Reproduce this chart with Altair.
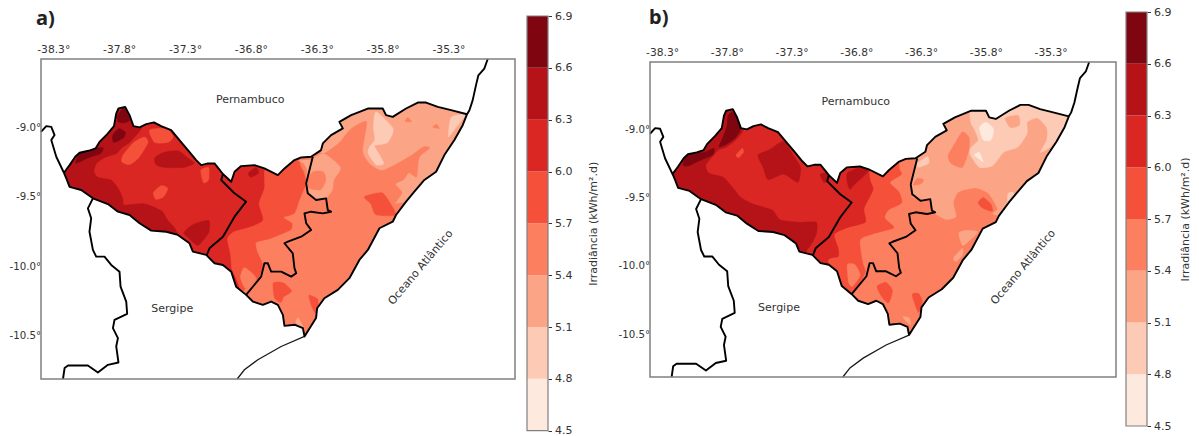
import altair as alt
import pandas as pd

LON_DOMAIN = [-38.393, -34.795]
LAT_DOMAIN = [-10.811, -8.51]
LON_TICKS = [-38.3, -37.8, -37.3, -36.8, -36.3, -35.8, -35.3]
LAT_TICKS = [-9.0, -9.5, -10.0, -10.5]
LEVELS = ["4.5", "4.8", "5.1", "5.4", "5.7", "6.0", "6.3", "6.6"]
LEVEL_COLORS = ["#fee9df", "#fdcab5", "#fca486", "#fc7f5f", "#f4503a", "#da2723", "#b61319", "#7f0610"]
BAR_LOW = [4.5, 4.8, 5.1, 5.4, 5.7, 6.0, 6.3, 6.6]
BAR_HIGH = [4.8, 5.1, 5.4, 5.7, 6.0, 6.3, 6.6, 6.9]
BAR_TICKS = [4.5, 4.8, 5.1, 5.4, 5.7, 6.0, 6.3, 6.6, 6.9]

ALAGOAS = [(-38.219,-9.328),(-38.176,-9.273),(-38.133,-9.213),(-38.100,-9.184),(-38.032,-9.170),(-37.979,-9.153),
(-37.949,-9.106),(-37.890,-9.050),(-37.839,-8.993),(-37.822,-8.902),(-37.805,-8.866),(-37.754,-8.854),(-37.721,-8.914),
(-37.691,-8.993),(-37.645,-9.002),(-37.594,-8.978),(-37.536,-8.966),(-37.481,-8.993),(-37.405,-9.022),(-37.342,-9.093),
(-37.278,-9.165),(-37.215,-9.237),(-37.177,-9.273),(-37.126,-9.261),(-37.076,-9.261),(-37.012,-9.337),(-36.949,-9.393),
(-36.924,-9.321),(-36.874,-9.280),(-36.773,-9.273),(-36.697,-9.297),(-36.595,-9.345),(-36.545,-9.297),(-36.469,-9.237),
(-36.418,-9.218),(-36.343,-9.213),(-36.267,-9.165),(-36.254,-9.117),(-36.191,-9.057),(-36.102,-9.009),(-36.128,-8.962),
(-36.039,-8.914),(-35.912,-8.866),(-35.799,-8.866),(-35.774,-8.914),(-35.723,-8.926),(-35.622,-8.866),(-35.533,-8.823),
(-35.470,-8.823),(-35.381,-8.854),(-35.280,-8.878),(-35.159,-8.907),(-35.192,-8.986),(-35.255,-9.093),(-35.331,-9.201),
(-35.394,-9.321),(-35.483,-9.380),(-35.559,-9.464),(-35.622,-9.536),(-35.698,-9.632),(-35.723,-9.680),(-35.824,-9.727),
(-35.912,-9.883),(-35.976,-9.955),(-36.052,-10.086),(-36.140,-10.170),(-36.242,-10.230),(-36.297,-10.302),(-36.305,-10.373),
(-36.393,-10.505),(-36.405,-10.445),(-36.464,-10.421),(-36.545,-10.429),(-36.557,-10.350),(-36.595,-10.278),(-36.646,-10.254),
(-36.709,-10.278),(-36.785,-10.254),(-36.836,-10.206),(-36.912,-10.147),(-36.949,-10.039),(-37.012,-9.991),(-37.076,-9.979),
(-37.139,-9.919),(-37.240,-9.895),(-37.266,-9.835),(-37.354,-9.775),(-37.443,-9.752),(-37.556,-9.744),(-37.645,-9.691),
(-37.721,-9.632),(-37.809,-9.608),(-37.885,-9.553),(-37.999,-9.512),(-38.088,-9.452),(-38.176,-9.429),(-38.201,-9.368),(-38.219,-9.328)]

PERNAMBUCO_WEST = [(-38.219,-9.328),(-38.277,-9.213),(-38.315,-9.093),(-38.290,-9.057),(-38.315,-8.998),(-38.353,-8.993),(-38.393,-9.034)]
SERGIPE_WEST = [(-37.999,-9.512),(-38.037,-9.584),(-38.012,-9.655),(-38.025,-9.752),(-37.999,-9.883),(-37.974,-9.931),(-37.911,-9.931),
(-37.860,-9.991),(-37.797,-10.039),(-37.789,-10.147),(-37.746,-10.254),(-37.739,-10.342),(-37.835,-10.386),(-37.847,-10.445),
(-37.809,-10.517),(-37.822,-10.577),(-37.805,-10.692),(-37.885,-10.709),(-37.961,-10.764),(-38.037,-10.714),(-38.188,-10.714),
(-38.214,-10.732),(-38.226,-10.811)]
SERGIPE_COAST = [(-36.393,-10.505),(-36.570,-10.577),(-36.747,-10.673),(-36.849,-10.745),(-36.904,-10.811)]
NORTH_COAST = [(-35.159,-8.907),(-35.141,-8.878),(-35.116,-8.806),(-35.091,-8.698),(-35.073,-8.627),(-35.028,-8.579),(-35.002,-8.51)]
MESO_WEST = [(-37.012,-9.337),(-37.025,-9.380),(-36.924,-9.476),(-36.836,-9.536),(-36.924,-9.644),(-37.012,-9.788),(-37.114,-9.871),(-37.134,-9.919)]
MESO_EAST = [(-36.330,-9.213),(-36.380,-9.404),(-36.368,-9.476),(-36.305,-9.524),(-36.229,-9.512),(-36.216,-9.596),(-36.191,-9.608),
(-36.254,-9.620),(-36.343,-9.608),(-36.393,-9.620),(-36.380,-9.691),(-36.343,-9.739),(-36.418,-9.788),(-36.519,-9.823),(-36.545,-9.835),
(-36.482,-9.907),(-36.469,-10.014),(-36.456,-10.050),(-36.494,-10.075),(-36.570,-10.039),(-36.646,-10.039),(-36.671,-9.979),
(-36.697,-9.979),(-36.722,-10.075),(-36.836,-10.206)]

BOX = [(-38.39,-8.52),(-34.80,-8.52),(-34.80,-10.80),(-38.39,-10.80)]

CONTOURS_A = [
("5.7", [(-36.43,-9.24),(-36.40,-9.32),(-36.38,-9.40),(-36.43,-9.52),(-36.47,-9.62),(-36.55,-9.65),(-36.49,-9.69),(-36.50,-9.74),(-36.65,-9.80),(-36.76,-9.83),(-36.75,-9.90),(-36.71,-9.99),(-36.74,-10.08),(-36.84,-10.16),(-36.93,-10.24),(-37.18,-10.39),(-38.25,-10.39),(-38.25,-8.81),(-36.43,-8.81)]),
("5.4", [(-36.85,-10.01),(-36.78,-10.06),(-36.76,-10.10),(-36.84,-10.16),(-36.88,-10.08)]),
("5.7", [(-36.63,-10.12),(-36.55,-10.12),(-36.49,-10.18),(-36.55,-10.22),(-36.57,-10.26),(-36.62,-10.23)]),
("5.7", [(-36.36,-10.21),(-36.29,-10.24),(-36.30,-10.34),(-36.33,-10.31)]),
("5.1", [(-36.44,-10.37),(-36.40,-10.44),(-36.40,-10.46),(-36.46,-10.41)]),
("6.0", [(-36.70,-9.33),(-36.70,-9.44),(-36.74,-9.55),(-36.71,-9.67),(-36.82,-9.72),(-36.93,-9.75),(-36.98,-9.80),(-36.96,-9.90),(-36.95,-10.01),(-36.95,-10.24),(-38.25,-10.24),(-38.25,-8.81),(-36.70,-8.81)]),
("6.3", [(-37.69,-8.99),(-37.63,-9.01),(-37.72,-9.11),(-37.78,-9.15),(-37.82,-9.19),(-37.91,-9.22),(-37.97,-9.26),(-37.99,-9.32),(-37.96,-9.36),(-37.86,-9.38),(-37.80,-9.45),(-37.77,-9.52),(-37.76,-9.56),(-37.61,-9.55),(-37.48,-9.60),(-37.43,-9.67),(-37.37,-9.74),(-37.38,-9.85),(-38.25,-9.85),(-38.25,-8.81),(-37.69,-8.81)]),
("6.3", [(-37.53,-9.22),(-37.46,-9.18),(-37.35,-9.17),(-37.28,-9.22),(-37.23,-9.26),(-37.31,-9.29),(-37.46,-9.29),(-37.52,-9.27)]),
("6.3", [(-36.82,-9.33),(-36.76,-9.29),(-36.74,-9.33),(-36.80,-9.36)]),
("6.3", [(-37.31,-9.76),(-37.24,-9.70),(-37.12,-9.67),(-37.12,-9.76),(-37.20,-9.85),(-37.27,-9.80)]),
("5.7", [(-37.77,-9.20),(-37.69,-9.11),(-37.61,-9.07),(-37.58,-9.11),(-37.65,-9.22),(-37.72,-9.27),(-37.78,-9.25)]),
("5.7", [(-37.57,-9.02),(-37.44,-9.01),(-37.39,-9.07),(-37.43,-9.11),(-37.53,-9.11)]),
("5.7", [(-37.54,-9.47),(-37.48,-9.42),(-37.43,-9.44),(-37.46,-9.50),(-37.52,-9.52)]),
("5.7", [(-37.18,-9.31),(-37.12,-9.29),(-37.12,-9.38),(-37.16,-9.40)]),
("6.6", [(-37.81,-8.91),(-37.76,-8.86),(-37.72,-8.95),(-37.77,-8.97),(-37.81,-8.96)]),
("6.6", [(-37.85,-9.06),(-37.80,-9.01),(-37.75,-9.04),(-37.77,-9.08),(-37.84,-9.11)]),
("6.6", [(-38.13,-9.26),(-38.10,-9.19),(-38.03,-9.18),(-37.97,-9.15),(-37.92,-9.15),(-37.94,-9.19),(-38.03,-9.22)]),
("5.1", [(-36.27,-9.18),(-36.23,-9.18),(-36.13,-9.11),(-36.04,-9.01),(-35.92,-8.96),(-35.95,-9.17),(-35.90,-9.26),(-35.81,-9.31),(-35.71,-9.27),(-35.58,-9.20),(-35.49,-9.14),(-35.44,-9.15),(-35.52,-9.22),(-35.54,-9.36),(-35.60,-9.33),(-35.64,-9.38),(-35.70,-9.41),(-35.65,-9.47),(-35.70,-9.55),(-35.62,-9.54),(-34.90,-9.52),(-34.90,-8.73),(-35.81,-8.73),(-36.19,-8.88),(-36.34,-9.09)]),
("5.1", [(-36.25,-9.19),(-36.12,-9.29),(-36.17,-9.38),(-36.18,-9.45),(-36.23,-9.51),(-36.32,-9.52),(-36.38,-9.43),(-36.36,-9.26)]),
("5.1", [(-36.44,-9.24),(-36.34,-9.24),(-36.36,-9.32),(-36.40,-9.26)]),
("5.4", [(-36.33,-9.32),(-36.25,-9.32),(-36.23,-9.38),(-36.27,-9.45),(-36.36,-9.44),(-36.37,-9.38)]),
("5.4", [(-35.63,-8.96),(-35.61,-8.93),(-35.58,-8.96)]),
("5.4", [(-35.42,-9.00),(-35.39,-8.98),(-35.37,-9.01)]),
("4.8", [(-35.85,-8.89),(-35.72,-9.01),(-35.76,-9.11),(-35.85,-9.13),(-35.86,-9.14),(-35.79,-9.26),(-35.85,-9.27),(-35.91,-9.19),(-35.90,-9.14),(-35.86,-9.09),(-35.87,-9.00)]),
("4.8", [(-35.17,-8.91),(-35.28,-8.93),(-35.30,-9.07),(-35.24,-9.00)]),
("5.7", [(-35.94,-9.50),(-35.81,-9.47),(-35.76,-9.52),(-35.70,-9.63),(-35.85,-9.63),(-35.89,-9.55)]),
]

CONTOURS_B = [
("5.7", [(-36.47,-9.26),(-36.45,-9.33),(-36.54,-9.39),(-36.47,-9.46),(-36.45,-9.54),(-36.55,-9.59),(-36.58,-9.65),(-36.51,-9.72),(-36.65,-9.76),(-36.77,-9.81),(-36.75,-9.98),(-36.73,-10.04),(-36.77,-10.13),(-36.82,-10.18),(-37.08,-10.40),(-38.25,-10.40),(-38.25,-8.79),(-36.47,-8.79)]),
("5.4", [(-36.87,-9.99),(-36.81,-9.99),(-36.77,-10.07),(-36.83,-10.15),(-36.86,-10.12)]),
("5.7", [(-36.64,-10.15),(-36.57,-10.12),(-36.52,-10.18),(-36.55,-10.27),(-36.60,-10.23)]),
("5.7", [(-36.37,-10.21),(-36.32,-10.20),(-36.29,-10.26),(-36.32,-10.34)]),
("5.1", [(-36.44,-10.37),(-36.39,-10.38),(-36.38,-10.43),(-36.41,-10.41)]),
("6.0", [(-36.70,-9.33),(-36.67,-9.44),(-36.74,-9.58),(-36.73,-9.68),(-36.87,-9.72),(-36.97,-9.77),(-36.94,-9.87),(-36.94,-9.93),(-37.02,-9.96),(-37.01,-10.18),(-38.25,-10.18),(-38.25,-8.79),(-36.70,-8.79)]),
("6.3", [(-37.67,-9.00),(-37.73,-9.08),(-37.80,-9.13),(-37.86,-9.15),(-37.90,-9.19),(-37.96,-9.26),(-37.94,-9.32),(-37.83,-9.35),(-37.76,-9.42),(-37.69,-9.50),(-37.59,-9.55),(-37.45,-9.59),(-37.39,-9.66),(-37.25,-9.68),(-37.11,-9.68),(-37.11,-9.77),(-37.17,-9.87),(-37.31,-9.96),(-38.25,-9.96),(-38.25,-8.79),(-37.67,-8.79)]),
("6.3", [(-37.56,-9.19),(-37.47,-9.15),(-37.36,-9.09),(-37.28,-9.20),(-37.23,-9.28),(-37.25,-9.39),(-37.36,-9.33),(-37.48,-9.37),(-37.52,-9.28)]),
("6.3", [(-36.87,-9.32),(-36.77,-9.28),(-36.71,-9.31),(-36.82,-9.41),(-36.85,-9.44),(-36.87,-9.39)]),
("6.3", [(-37.08,-9.33),(-37.02,-9.32),(-37.01,-9.37),(-37.05,-9.39)]),
("5.7", [(-37.73,-9.19),(-37.68,-9.14),(-37.67,-9.17),(-37.71,-9.21)]),
("6.6", [(-37.79,-8.90),(-37.75,-8.88),(-37.69,-8.99),(-37.73,-9.06),(-37.80,-9.11),(-37.86,-9.13),(-37.83,-9.06),(-37.80,-8.98)]),
("6.6", [(-38.14,-9.26),(-38.10,-9.17),(-37.98,-9.17),(-37.90,-9.14),(-37.91,-9.19),(-38.03,-9.24),(-38.10,-9.27)]),
("5.1", [(-36.34,-9.21),(-36.37,-9.39),(-36.36,-9.50),(-36.24,-9.52),(-36.20,-9.61),(-36.11,-9.66),(-36.03,-9.64),(-36.05,-9.54),(-36.01,-9.46),(-35.88,-9.43),(-35.78,-9.47),(-35.71,-9.58),(-35.71,-9.63),(-34.91,-9.63),(-34.91,-8.71),(-35.80,-8.71),(-36.23,-8.93)]),
("5.4", [(-35.98,-9.02),(-35.93,-9.06),(-35.93,-9.15),(-35.98,-9.28),(-36.07,-9.25),(-36.09,-9.19),(-36.03,-9.09)]),
("5.4", [(-36.33,-9.36),(-36.28,-9.37),(-36.30,-9.40),(-36.36,-9.41)]),
("5.1", [(-36.01,-9.76),(-35.96,-9.74),(-35.86,-9.75),(-35.92,-9.81),(-35.98,-9.85)]),
("5.1", [(-36.05,-9.94),(-35.98,-9.87),(-35.98,-9.92),(-36.03,-9.97)]),
("4.8", [(-35.92,-8.93),(-35.89,-9.00),(-35.86,-9.08),(-35.92,-9.14),(-35.92,-9.19),(-35.85,-9.28),(-35.75,-9.27),(-35.66,-9.17),(-35.55,-9.13),(-35.48,-9.03),(-35.48,-8.95),(-35.40,-8.92),(-35.33,-8.99),(-35.33,-9.08),(-35.38,-9.17),(-35.30,-9.13),(-35.22,-9.04),(-35.14,-8.90),(-35.14,-8.64),(-35.89,-8.64)]),
("5.1", [(-35.65,-8.92),(-35.55,-8.90),(-35.54,-8.97),(-35.61,-8.99)]),
("4.8", [(-36.33,-9.25),(-36.25,-9.20),(-36.24,-9.25),(-36.32,-9.28)]),
("4.8", [(-35.63,-9.47),(-35.59,-9.46),(-35.58,-9.50),(-35.63,-9.54)]),
("4.5", [(-35.85,-8.99),(-35.80,-8.95),(-35.74,-9.00),(-35.76,-9.08),(-35.82,-9.08)]),
("4.5", [(-35.89,-9.19),(-35.85,-9.17),(-35.82,-9.24),(-35.85,-9.22)]),
("5.7", [(-35.86,-9.54),(-35.82,-9.50),(-35.76,-9.55),(-35.75,-9.60),(-35.82,-9.58)]),
]

MASK = [ALAGOAS[0], (LON_DOMAIN[0],-9.33), (LON_DOMAIN[0],LAT_DOMAIN[0]), (LON_DOMAIN[1],LAT_DOMAIN[0]),
        (LON_DOMAIN[1],LAT_DOMAIN[1]), (LON_DOMAIN[0],LAT_DOMAIN[1]), (LON_DOMAIN[0],-9.33)] + ALAGOAS
THICK_LINES = [ALAGOAS, PERNAMBUCO_WEST, SERGIPE_WEST, NORTH_COAST, MESO_WEST, MESO_EAST]
THIN_LINES = [SERGIPE_COAST]

PLACE_NAMES = ["Pernambuco", "Sergipe"]
PLACE_LON = [-36.805, -37.397]
PLACE_LAT = [-8.805, -10.307]
OCEAN_NAME = ["Oceano Atlântico"]
OCEAN_LON = [-35.51]
OCEAN_LAT = [-10.01]
TEXT_FONT = "DejaVu Sans"
TEXT_COLOR = "#333333"
FRAME_COLOR = "#808080"
LABEL_EXPR = "replace(format(datum.value,'.1f'),'\u2212','-')+'\u00b0'"
VIEW_HEIGHT = 419


def rows(lines, levels=None):
    out = []
    for k, line in enumerate(lines):
        for i, (lon, lat) in enumerate(line):
            out.append({"poly": k, "i": i, "lon": lon, "lat": lat, "level": levels[k] if levels else ""})
    return pd.DataFrame(out)


def panel(contours, width, y_range, label, label_x, label_y, left_pad):
    xs = alt.Scale(domain=LON_DOMAIN, nice=False, zero=False)
    ys = alt.Scale(domain=LAT_DOMAIN, range=y_range, nice=False, zero=False)
    x_axis = alt.Axis(orient="top", values=LON_TICKS, title=None, grid=False, domain=False, ticks=False,
                      labelExpr=LABEL_EXPR, labelFontSize=10.7, labelFont=TEXT_FONT, labelColor=TEXT_COLOR,
                      labelPadding=5, labelFlush=False, labelOverlap=False, offset=-y_range[1])
    y_axis = alt.Axis(orient="left", values=LAT_TICKS, title=None, grid=False, domain=False, ticks=False,
                      labelExpr=LABEL_EXPR, labelFontSize=10.2, labelFont=TEXT_FONT, labelColor=TEXT_COLOR,
                      labelPadding=0.5, labelFlush=False, labelOverlap=False)
    x = alt.X("lon:Q", scale=xs, axis=x_axis)
    y = alt.Y("lat:Q", scale=ys, axis=y_axis)
    level_scale = alt.Scale(domain=LEVELS, range=LEVEL_COLORS)
    base = alt.Chart(rows([BOX], ["5.4"])).mark_line(filled=True, strokeWidth=0).encode(
        x=x, y=y, order="i:Q", detail="poly:N", fill=alt.Fill("level:N", scale=level_scale, legend=None))
    fills = alt.Chart(rows([c[1] for c in contours], [c[0] for c in contours])).mark_line(
        strokeWidth=0.3, filled=True, interpolate="cardinal-closed", tension=0.35).encode(
        x=x, y=y, order="i:Q", detail="poly:N",
        fill=alt.Fill("level:N", scale=level_scale, legend=None),
        stroke=alt.Stroke("level:N", scale=level_scale, legend=None))
    mask = alt.Chart(rows([MASK])).mark_line(color="white", fill="white", filled=True,
                                             strokeWidth=2.8, strokeJoin="round").encode(x=x, y=y, order="i:Q", detail="poly:N")
    thick = alt.Chart(rows(THICK_LINES)).mark_line(color="black", strokeWidth=1.9, strokeJoin="round").encode(
        x=x, y=y, order="i:Q", detail="poly:N")
    thin = alt.Chart(rows(THIN_LINES)).mark_line(color="#1a1a1a", strokeWidth=1.3).encode(
        x=x, y=y, order="i:Q", detail="poly:N")
    names = alt.Chart(pd.DataFrame({"t": PLACE_NAMES, "lon": PLACE_LON, "lat": PLACE_LAT})).mark_text(
        font=TEXT_FONT, fontSize=11, color=TEXT_COLOR).encode(x=x, y=y, text="t:N")
    ocean = alt.Chart(pd.DataFrame({"t": OCEAN_NAME, "lon": OCEAN_LON, "lat": OCEAN_LAT})).mark_text(
        font=TEXT_FONT, fontSize=11, color=TEXT_COLOR, angle=310).encode(x=x, y=y, text="t:N")
    frame = alt.Chart(pd.DataFrame({"x0": [LON_DOMAIN[0]], "x1": [LON_DOMAIN[1]], "y0": [LAT_DOMAIN[0]], "y1": [LAT_DOMAIN[1]]})).mark_rect(
        fill="transparent", stroke=FRAME_COLOR, strokeWidth=1.5).encode(
        x=alt.X("x0:Q", scale=xs, axis=x_axis), x2="x1:Q", y=alt.Y("y0:Q", scale=ys, axis=y_axis), y2="y1:Q")
    tag = alt.Chart(pd.DataFrame({"t": [label]})).mark_text(
        font="Noto Sans", fontSize=20, fontWeight="bold", color="#222222", align="left", baseline="middle").encode(
        x=alt.value(label_x), y=alt.value(label_y), text="t:N")
    pad = alt.Chart(pd.DataFrame({"t": [0]})).mark_point(size=1, opacity=0).encode(
        x=alt.value(left_pad), y=alt.value(100))
    return alt.layer(base, fills, mask, thick, thin, names, ocean, frame, tag, pad).properties(width=width, height=VIEW_HEIGHT)


def colorbar(y_range, left_pad, title_x):
    df = pd.DataFrame({"level": LEVELS, "lo": BAR_LOW, "hi": BAR_HIGH})
    ys = alt.Scale(domain=[4.5, 6.9], range=y_range, nice=False, zero=False)
    axis = alt.Axis(orient="right", values=BAR_TICKS, format=".1f", grid=False, domain=False,
                    tickSize=3.5, tickColor="#333333", labelFontSize=11, labelFont=TEXT_FONT,
                    labelColor=TEXT_COLOR, labelPadding=3, labelFlush=False, labelOverlap=False,
                    title="Irradiância (kWh/m².d)", titleAngle=270, titleFontSize=11,
                    titleFontWeight="normal", titleFont=TEXT_FONT, titleColor=TEXT_COLOR,
                    titleBaseline="middle", titleX=title_x, titleY=(y_range[0] + y_range[1]) / 2)
    bars = alt.Chart(df).mark_rect().encode(
        y=alt.Y("lo:Q", scale=ys, axis=axis), y2="hi:Q",
        fill=alt.Fill("level:N", scale=alt.Scale(domain=LEVELS, range=LEVEL_COLORS), legend=None))
    frame = alt.Chart(pd.DataFrame({"y0": [BAR_LOW[0]], "y1": [BAR_HIGH[-1]]})).mark_rect(
        fill="transparent", stroke=FRAME_COLOR, strokeWidth=1.2).encode(
        y=alt.Y("y0:Q", scale=ys, axis=axis), y2="y1:Q")
    pad = alt.Chart(pd.DataFrame({"t": [0]})).mark_point(size=1, opacity=0).encode(
        x=alt.value(left_pad), y=alt.value(100))
    return alt.layer(bars, frame, pad).properties(width=21, height=VIEW_HEIGHT)


chart = alt.hconcat(
    panel(CONTOURS_A, 474, [367, 47], "a)", -5, 7, -32),
    colorbar([418.7, 4], -10.25, 45),
    panel(CONTOURS_B, 466, [365, 50], "b)", -1, 6, -51.3),
    colorbar([414, 0], -8.5, 38),
    spacing=0,
).resolve_scale(fill="independent", stroke="independent").configure_view(
    stroke=None
).properties(padding={"left": 0, "top": -2, "right": 0, "bottom": 0}, background="white")

chart.save("out.html", embed_options={"renderer": "svg", "actions": False})
